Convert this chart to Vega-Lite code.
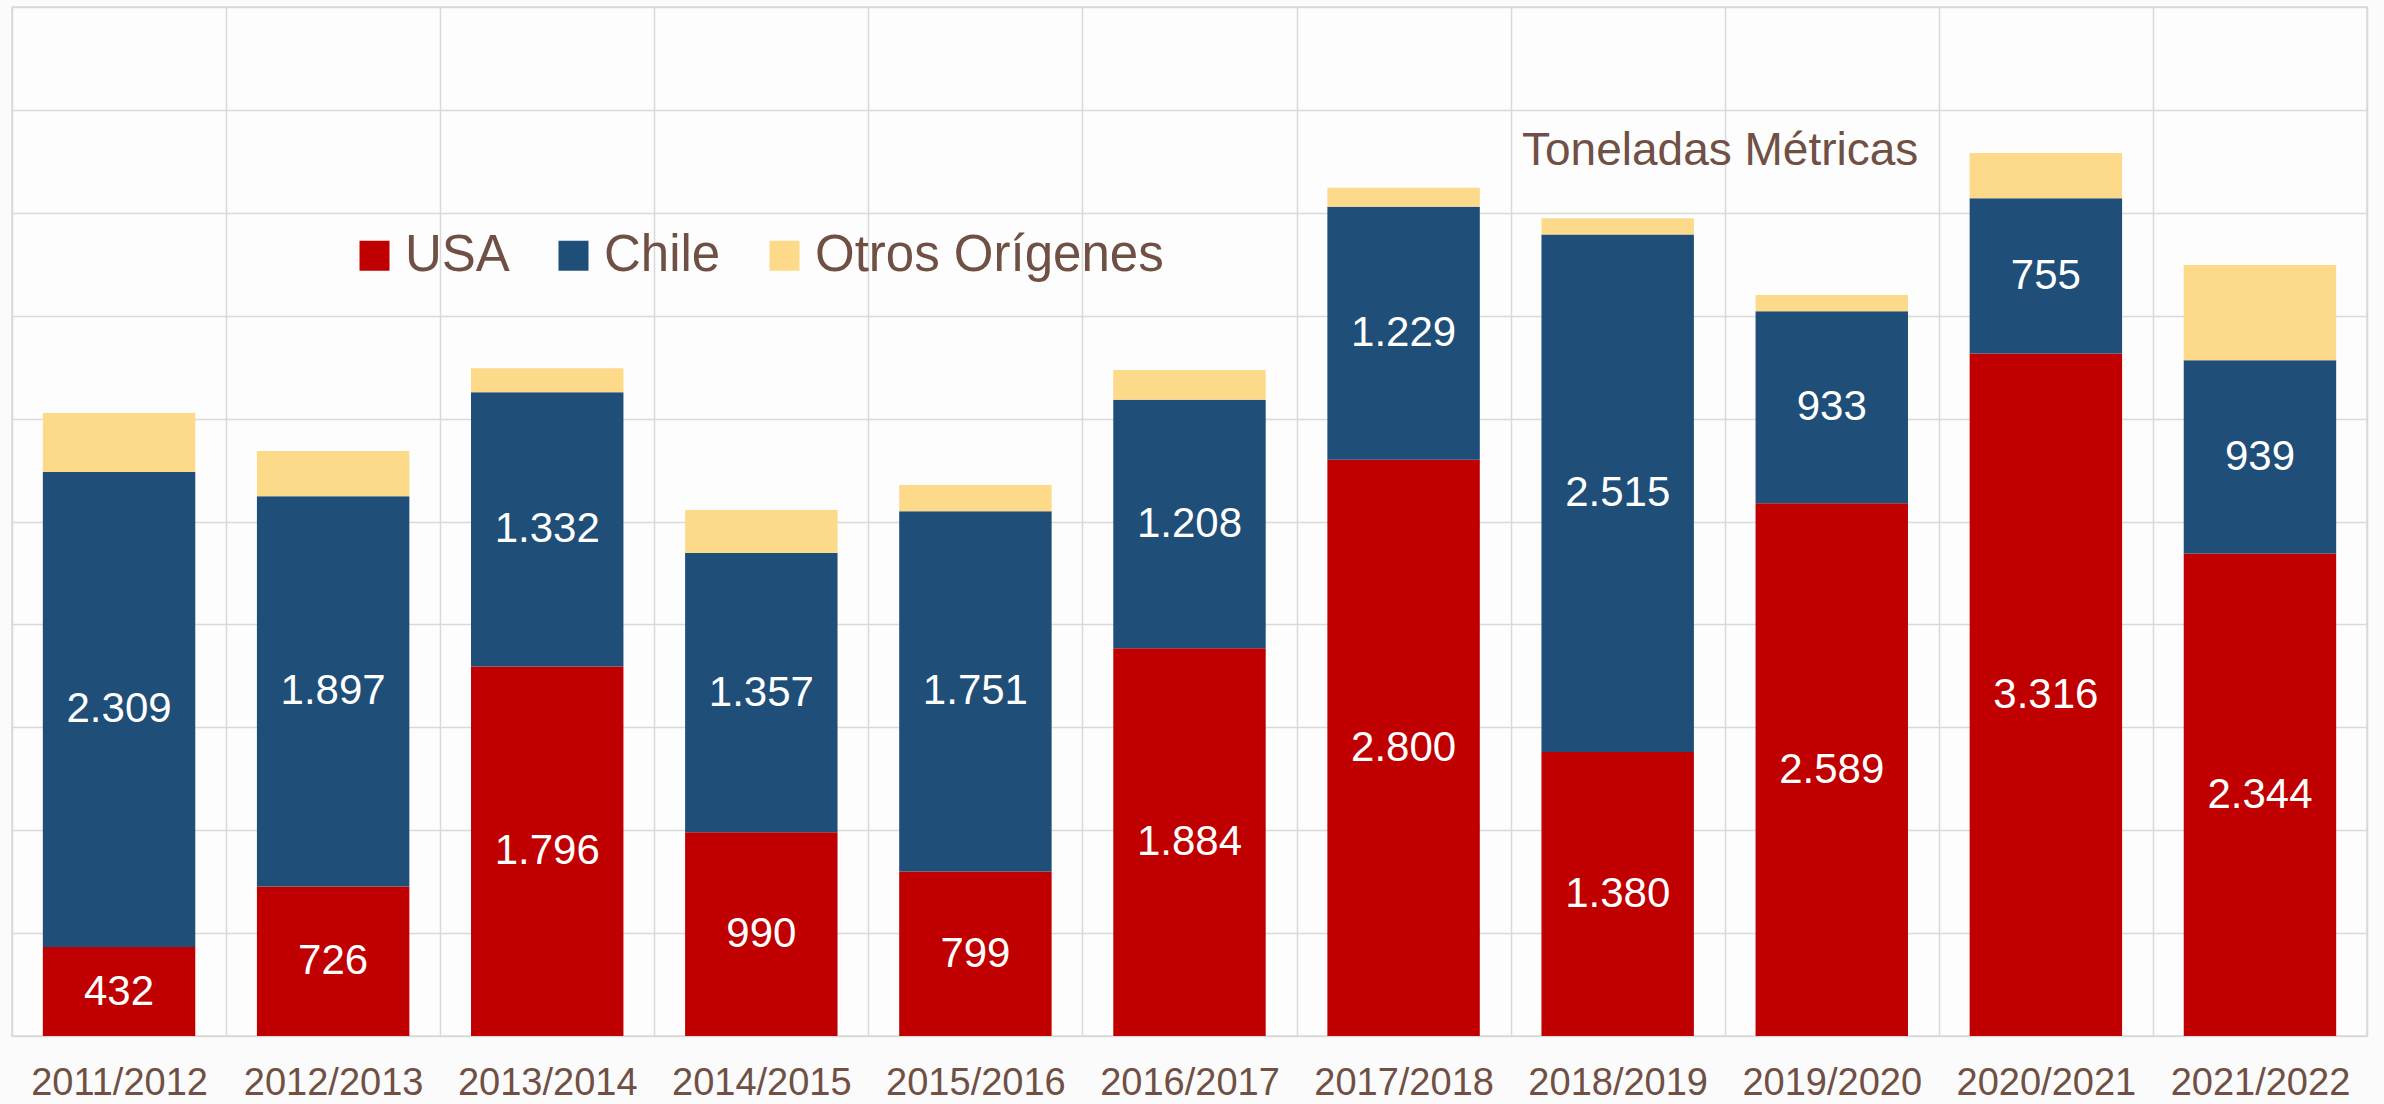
{
  "$schema": "https://vega.github.io/schema/vega-lite/v6.json",
  "width": 2355,
  "height": 1029,
  "autosize": {"type": "none"},
  "padding": {"left": 12, "top": 7, "right": 17, "bottom": 68},
  "background": "#fbfbfb",
  "title": {
    "text": "Toneladas Métricas",
    "anchor": "start",
    "frame": "group",
    "orient": "top",
    "offset": 0,
    "dx": 1510,
    "dy": 204,
    "fontSize": 46,
    "font": "Liberation Sans",
    "fontWeight": "normal",
    "color": "#704F45",
    "baseline": "alphabetic"
  },
  "data": {
    "values": [
      {"season": "2011/2012", "serie": "USA", "value": 432},
      {"season": "2011/2012", "serie": "Chile", "value": 2309},
      {"season": "2011/2012", "serie": "Otros Orígenes", "value": 286},
      {"season": "2012/2013", "serie": "USA", "value": 726},
      {"season": "2012/2013", "serie": "Chile", "value": 1897},
      {"season": "2012/2013", "serie": "Otros Orígenes", "value": 220},
      {"season": "2013/2014", "serie": "USA", "value": 1796},
      {"season": "2013/2014", "serie": "Chile", "value": 1332},
      {"season": "2013/2014", "serie": "Otros Orígenes", "value": 117},
      {"season": "2014/2015", "serie": "USA", "value": 990},
      {"season": "2014/2015", "serie": "Chile", "value": 1357},
      {"season": "2014/2015", "serie": "Otros Orígenes", "value": 209},
      {"season": "2015/2016", "serie": "USA", "value": 799},
      {"season": "2015/2016", "serie": "Chile", "value": 1751},
      {"season": "2015/2016", "serie": "Otros Orígenes", "value": 127},
      {"season": "2016/2017", "serie": "USA", "value": 1884},
      {"season": "2016/2017", "serie": "Chile", "value": 1208},
      {"season": "2016/2017", "serie": "Otros Orígenes", "value": 144},
      {"season": "2017/2018", "serie": "USA", "value": 2800},
      {"season": "2017/2018", "serie": "Chile", "value": 1229},
      {"season": "2017/2018", "serie": "Otros Orígenes", "value": 93},
      {"season": "2018/2019", "serie": "USA", "value": 1380},
      {"season": "2018/2019", "serie": "Chile", "value": 2515},
      {"season": "2018/2019", "serie": "Otros Orígenes", "value": 78},
      {"season": "2019/2020", "serie": "USA", "value": 2589},
      {"season": "2019/2020", "serie": "Chile", "value": 933},
      {"season": "2019/2020", "serie": "Otros Orígenes", "value": 79},
      {"season": "2020/2021", "serie": "USA", "value": 3316},
      {"season": "2020/2021", "serie": "Chile", "value": 755},
      {"season": "2020/2021", "serie": "Otros Orígenes", "value": 220},
      {"season": "2021/2022", "serie": "USA", "value": 2344},
      {"season": "2021/2022", "serie": "Chile", "value": 939},
      {"season": "2021/2022", "serie": "Otros Orígenes", "value": 463}
    ]
  },
  "transform": [
    {"calculate": "indexof(['USA','Chile','Otros Orígenes'], datum.serie)", "as": "ord"},
    {"stack": "value", "groupby": ["season"], "sort": [{"field": "ord", "order": "ascending"}], "as": ["v0", "v1"]},
    {"calculate": "(datum.v0 + datum.v1) / 2", "as": "mid"}
  ],
  "encoding": {
    "x": {
      "field": "season",
      "type": "nominal",
      "sort": null,
      "scale": {"paddingInner": 0, "paddingOuter": 0},
      "axis": {
        "title": null,
        "tickBand": "extent",
        "grid": true,
        "gridColor": "#d9d9d9",
        "gridWidth": 1.5,
        "ticks": false,
        "domain": false,
        "labelFontSize": 38,
        "labelFont": "Liberation Sans",
        "labelColor": "#704F45",
        "labelPadding": 28,
        "labelAngle": 0
      }
    }
  },
  "layer": [
    {
      "mark": {"type": "bar", "width": {"band": 0.712}},
      "encoding": {
        "y": {
          "field": "v0",
          "type": "quantitative",
          "scale": {"domain": [0, 5000], "nice": false},
          "axis": {
            "title": null,
            "labels": false,
            "ticks": false,
            "domain": false,
            "grid": true,
            "gridColor": "#d9d9d9",
            "gridWidth": 1.5,
            "values": [0, 500, 1000, 1500, 2000, 2500, 3000, 3500, 4000, 4500, 5000]
          }
        },
        "y2": {"field": "v1"},
        "color": {
          "field": "serie",
          "type": "nominal",
          "sort": ["USA", "Chile", "Otros Orígenes"],
          "scale": {"domain": ["USA", "Chile", "Otros Orígenes"], "range": ["#C00000", "#1F4E79", "#FDD98A"]},
          "legend": {
            "title": null,
            "orient": "none",
            "legendX": 337,
            "legendY": 223,
            "direction": "horizontal",
            "symbolType": "square",
            "symbolSize": 900,
            "symbolStrokeWidth": 0,
            "labelFontSize": 51,
            "labelFont": "Liberation Sans",
            "labelColor": "#704F45",
            "labelOffset": 5,
            "columnPadding": 38,
            "padding": 0,
            "labelLimit": 0
          }
        }
      }
    },
    {
      "transform": [{"filter": "datum.serie != 'Otros Orígenes'"}],
      "mark": {"type": "text", "color": "white", "fontSize": 42, "font": "Liberation Sans", "baseline": "middle", "align": "center"},
      "encoding": {
        "y": {"field": "mid", "type": "quantitative"},
        "text": {"field": "value", "type": "quantitative", "format": ",d"}
      }
    }
  ],
  "config": {
    "locale": {"number": {"decimal": ",", "thousands": ".", "grouping": [3], "currency": ["", ""]}},
    "view": {"stroke": "#d9d9d9", "strokeWidth": 1.5, "fill": "#fdfdfd"}
  }
}
